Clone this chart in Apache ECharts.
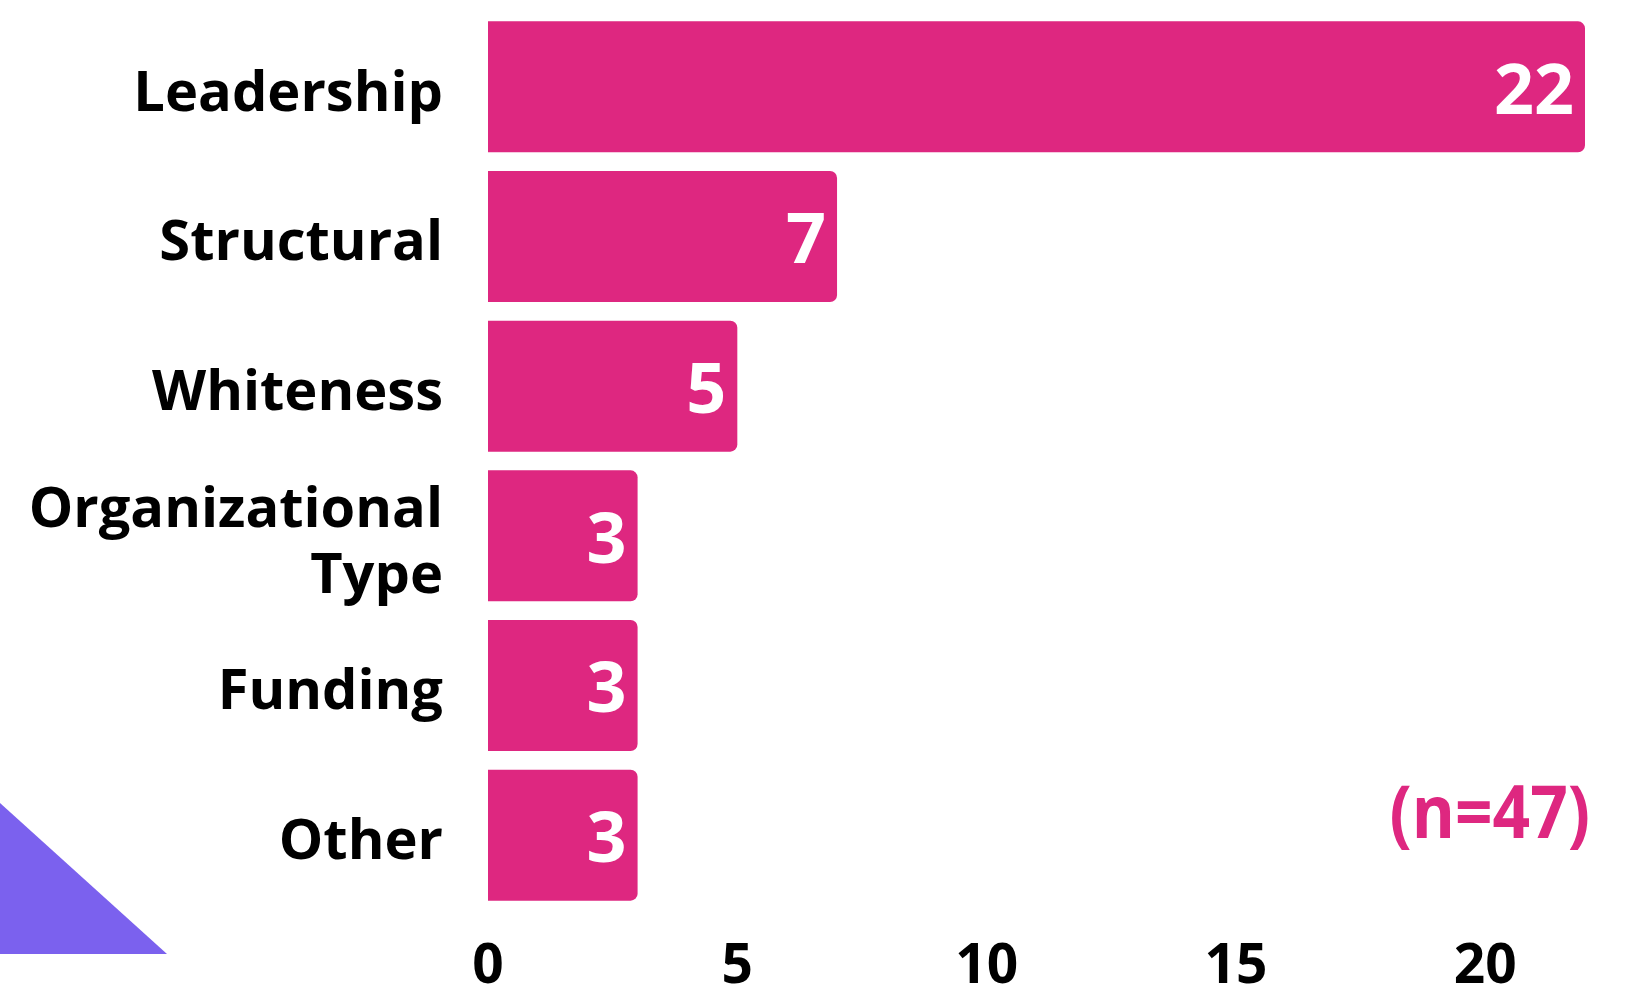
<!DOCTYPE html>
<html>
<head>
<meta charset="utf-8">
<script src="https://cdn.jsdelivr.net/npm/echarts@6/dist/echarts.min.js"></script>
<style>
html,body{margin:0;padding:0;background:#fff;}
#chart{width:1635px;height:995px;}
</style>
</head>
<body>
<div id="chart"></div>
<script>
const categories = ["Leadership", "Structural", "Whiteness", "Organizational\nType", "Funding", "Other"];
const counts = [22, 7, 5, 3, 3, 3];
const xTicks = [0, 5, 10, 15, 20];
const noteText = "(n=47)";

const PINK = "#DE2780";
const FONT = "'Open Sans', 'Noto Sans', sans-serif";

const chart = echarts.init(document.getElementById('chart'));
chart.setOption({
  animation: false,
  backgroundColor: '#ffffff',
  grid: { left: 488, right: 50, top: 12, bottom: 85, containLabel: false },
  xAxis: {
    type: 'value', min: 0, max: 22, interval: 5,
    splitLine: { show: false }, axisLine: { show: false }, axisTick: { show: false },
    axisLabel: {
      showMaxLabel: false,
      fontFamily: FONT, fontWeight: 'bold', fontSize: 55, color: '#000', margin: 30,
      formatter: v => xTicks.includes(v) ? String(v) : ''
    }
  },
  yAxis: {
    type: 'category', data: categories, inverse: true,
    axisLine: { show: false }, axisTick: { show: false },
    axisLabel: {
      margin: 45, align: 'right',
      formatter: v => '{s| }\n' + v.split('\n').map(l => '{a|' + l + '}').join('\n'),
      rich: {
        s: { fontSize: 1, lineHeight: 16 },
        a: { fontFamily: FONT, fontWeight: 'bold', fontSize: 56, color: '#000', lineHeight: 66, align: 'right' }
      }
    }
  },
  series: [{
    type: 'bar', data: counts, barCategoryGap: '12.5%',
    itemStyle: { color: PINK, borderRadius: [0, 7, 7, 0] },
    label: {
      show: true, position: 'insideRight', distance: 11, offset: [0, 7],
      fontFamily: FONT, fontWeight: 'bold', fontSize: 70, color: '#fff'
    }
  }],
  graphic: [
    {
      type: 'polygon', z: 10,
      shape: { points: [[0, 803], [167, 954], [0, 954]] },
      style: { fill: '#7B61EE' }
    },
    {
      type: 'text', x: 1590, y: 781, scaleX: 0.9, z: 10,
      style: { text: noteText, textAlign: 'right', textVerticalAlign: 'top',
               fontFamily: FONT, fontWeight: 'bold', fontSize: 73, fill: PINK }
    }
  ]
});
</script>
</body>
</html>
